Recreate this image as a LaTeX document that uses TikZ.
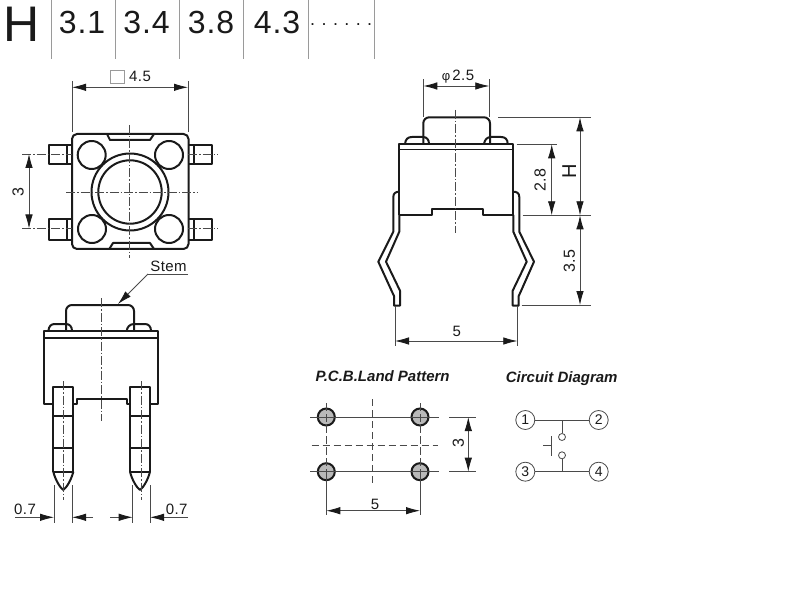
\documentclass[tikz,border=0pt]{standalone}
\usepackage{fontspec}
\setmainfont{Liberation Sans}
\usetikzlibrary{arrows.meta}
\newcommand{\fs}[1]{\fontsize{#1}{#1}\selectfont}
\newcommand{\lspc}[1]{\addfontfeature{LetterSpace=#1}}
\definecolor{inkc}{HTML}{1A1A1A}
\definecolor{thinc}{HTML}{4A4A4A}
\definecolor{rulec}{HTML}{9A9A9A}
\tikzset{
  outl/.style={draw=inkc,line width=2pt,line join=round},
  thinl/.style={draw=thinc,line width=0.8pt},
  ctr/.style={draw=thinc,line width=0.7pt,dash pattern=on 9pt off 2pt on 1.5pt off 2pt},
  dashl/.style={draw=thinc,line width=0.7pt,dash pattern=on 7pt off 4pt},
  dimb/.style={thinl,{Latex[length=14pt,width=7.5pt,color=inkc]}-{Latex[length=14pt,width=7.5pt,color=inkc]}},
  dime/.style={thinl,-{Latex[length=14pt,width=7.5pt,color=inkc]}},
  lab/.style={inner sep=0pt,text=inkc,font=\fs{15}\lspc{3}},
  labr/.style={inner sep=0pt,text=inkc,rotate=90,font=\fs{16}},
  head/.style={inner sep=0pt,text=inkc,font=\fs{32}\lspc{3}},
  ttl/.style={inner sep=0pt,text=inkc,font=\fs{15}\bfseries\itshape},
  pad/.style={circle,draw=inkc,fill=gray!55,line width=2pt,minimum size=17pt,inner sep=0pt},
  term/.style={circle,draw=thinc,fill=white,line width=0.8pt,minimum size=19pt,inner sep=0pt,text=inkc,font=\fs{14}},
  cont/.style={circle,draw=thinc,fill=white,line width=0.8pt,minimum size=7pt,inner sep=0pt},
}
\begin{document}
\begin{tikzpicture}[x=1pt,y=-1pt]
\useasboundingbox[fill=white] (0,0) rectangle (788,591);

% ---------- header
\node[inner sep=0pt,text=inkc,font=\fs{50}] (hH) at (21.5,24) {H};
\foreach \x in {51.7,115.7,179.7,243.7,308,374.7}
  \draw[rulec,line width=0.7pt] (\x,0) -- (\x,59);
\node[head] (h1) at (82,22.7) {3.1};
\node[head] (h2) at (146.5,22.7) {3.4};
\node[head] (h3) at (211,22.7) {3.8};
\node[head] (h4) at (277,22.7) {4.3};
\node[inner sep=0pt,text=inkc,font=\fs{18},anchor=base west] (hd) at (310,26)
  {.\kern6.4pt.\kern6.4pt.\kern6.4pt.\kern6.4pt.\kern6.4pt.};

% ---------- top view
\draw[outl] (48.7,145) rectangle (72,164) (66.7,145) -- (66.7,164);
\draw[outl] (48.7,219) rectangle (72,240) (66.7,219) -- (66.7,240);
\draw[outl] (188,145) rectangle (211.7,164) (194,145) -- (194,164);
\draw[outl] (188,219) rectangle (211.7,240) (194,219) -- (194,240);
\draw[outl,fill=white,rounded corners=5pt] (72,134) rectangle (188.5,249);
\draw[outl] (107,134) -- (110,140) -- (150,140) -- (154,134);
\draw[outl] (109.3,249) -- (113,243) -- (150,243) -- (154,249);
\foreach \x/\y in {91.7/155,169/155,92/229,169/229}
  \draw[outl] (\x,\y) circle[radius=14];
\draw[outl] (130,192) circle[radius=38.5];
\draw[outl] (130,192) circle[radius=31.7];
\draw[ctr] (129.5,125) -- (129.5,258);
\draw[ctr] (66,192) -- (197,192);
\draw[ctr] (22,154) -- (72,154);
\draw[ctr] (22,228.5) -- (72,228.5);
\draw[ctr] (188,154) -- (218,154);
\draw[ctr] (188,228.5) -- (218,228.5);
\draw[thinl] (72,81) -- (72,132) (188,81) -- (188,132);
\draw[dimb] (72,87.3) -- (188,87.3);
\draw[rulec,line width=0.8pt] (110,70) rectangle (124,83);
\node[lab] (d45) at (140,76.7) {4.5};
\draw[dimb] (29,154) -- (29,228.5);
\node[labr] (d3a) at (18,192) {3};

% ---------- front view
\draw[outl,rounded corners=6pt] (66,331) -- (66,305) -- (134,305) -- (134,331);
\draw[outl] (48.3,331) .. controls (49,326) and (51,324) .. (55,324) -- (66,324) .. controls (70,324) and (72,327) .. (72,331);
\draw[outl] (126.7,331) .. controls (127,327) and (130,324) .. (134,324) -- (145,324) .. controls (149,324) and (151,327) .. (151,331);
\draw[outl] (53.3,404) -- (44,404) -- (44,331) -- (158.3,331) -- (158.3,404) -- (150,404);
\draw[outl,line width=1.2pt] (44,338) -- (158.3,338);
\draw[outl] (73.3,404) -- (77,404) -- (77,399) -- (126.7,399) -- (126.7,404) -- (130,404);
\foreach \x in {53.3,130} {
  \draw[outl] (\x,471.7) -- (\x,386.7) -- (\x+20,386.7) -- (\x+20,471.7)
     (\x,415.7) -- (\x+20,415.7) (\x,448.3) -- (\x+20,448.3) (\x,471.7) -- (\x+20,471.7);
  \draw[outl] (\x,471.7) .. controls (\x+2,480) and (\x+7,488) .. (\x+10,490) .. controls (\x+13,488) and (\x+18,480) .. (\x+20,471.7);
}
\draw[ctr] (101.7,298) -- (101.7,420.7);
\draw[ctr] (63.3,381) -- (63.3,500);
\draw[ctr] (141,381) -- (141,500);
\draw[thinl] (54,485) -- (54,523) (72,485) -- (72,523) (132.7,485) -- (132.7,523) (150,485) -- (150,523);
\draw[dime] (15,517.3) -- (54,517.3);
\draw[dime] (93,517.3) -- (72,517.3);
\draw[dime] (110,517.3) -- (132.7,517.3);
\draw[dime] (188,517.3) -- (150,517.3);
\node[lab] (d07a) at (25,509) {0.7};
\node[lab] (d07b) at (176.7,509) {0.7};
\node[lab] (dstem) at (168.5,266) {Stem};
\coordinate (stemk) at (148,274);
\coordinate (stemt) at (118,304);
\draw[thinl] (188,274) -- (stemk);
\draw[dime] (stemk) -- (stemt);

% ---------- side view
\draw[outl,rounded corners=6pt] (423.3,144) -- (423.3,117.3) -- (490,117.3) -- (490,144);
\draw[outl] (405,144) .. controls (405.5,139) and (408,137) .. (412,137) -- (423,137) .. controls (427,137) and (429,140) .. (429,144);
\draw[outl] (484,144) .. controls (484.5,140) and (487,137) .. (491,137) -- (501,137) .. controls (505,137) and (507.7,139) .. (507.7,144);
\draw[outl] (399.3,215.3) -- (399.3,144) -- (513.3,144) -- (513.3,215.3);
\draw[outl,line width=1.2pt] (399.3,149.3) -- (513.3,149.3);
\draw[outl] (399.3,215.3) -- (431.7,215.3) -- (431.7,209.3) -- (482.7,209.3) -- (482.7,215.3) -- (513.3,215.3);
\draw[outl] (399.3,191.7) .. controls (396,191.7) and (393.3,193) .. (393.3,197) -- (393.3,231.7) -- (378.3,261.7) -- (392,291.7) -- (394,296) -- (394,305.7) -- (400,305.7) -- (400,290.7) -- (386,261.7) -- (399.3,231.7) -- (399.3,215);
\draw[outl] (513.3,191.7) .. controls (516.6,191.7) and (519.3,193) .. (519.3,197) -- (519.3,231.7) -- (534,261.7) -- (520.7,291.7) -- (518.7,296) -- (518.7,305.7) -- (512.7,305.7) -- (512.7,290.7) -- (526.7,261.7) -- (513.3,231.7) -- (513.3,215);
\draw[ctr] (455.7,110) -- (455.7,233);
\draw[thinl] (423.3,79.3) -- (423.3,116.7) (489.3,79.3) -- (489.3,116.7);
\draw[dimb] (423.3,86) -- (489.3,86);
\node[lab] (d25) at (458,76.7) {\fs{13}φ\,\fs{15}\lspc{3}2.5};
\draw[thinl] (498,117.3) -- (590.7,117.3) (522.7,215.3) -- (590.7,215.3)
             (516.7,144.3) -- (557,144.3) (521.7,305) -- (590.7,305);
\draw[dimb] (580,117.3) -- (580,215.3);
\draw[dimb] (551.7,144.3) -- (551.7,215.3);
\draw[dimb] (580,215.3) -- (580,305);
\node[labr] (d28) at (540,180) {2.8};
\node[labr,font=\fs{20}] (dH) at (569.3,171) {H};
\node[labr] (d35) at (569.3,261) {3.5};
\draw[thinl] (395,305.7) -- (395,346) (517.3,305.7) -- (517.3,346);
\draw[dimb] (395,341) -- (517.3,341);
\node[lab] (d5a) at (456.7,331.7) {5};

% ---------- P.C.B. land pattern
\node[ttl] (tpcb) at (382.7,375.7) {P.C.B.Land Pattern};
\node[pad] (p1) at (326.3,417) {};
\node[pad] (p2) at (420,417) {};
\node[pad] (p3) at (326.3,471.7) {};
\node[pad] (p4) at (420,471.7) {};
\coordinate (pl1) at (310,417);
\coordinate (pr1) at (439,417);
\coordinate (pl2) at (310,471.7);
\coordinate (pr2) at (439,471.7);
\draw[thinl] (pl1) -- (pr1) (pl2) -- (pr2);
\draw[ctr,dash pattern=on 8pt off 3pt] (326.3,403) -- (p3.center);
\draw[ctr,dash pattern=on 8pt off 3pt] (420,403) -- (p4.center);
\draw[dashl] (372.3,399) -- (372.3,486.7);
\draw[dashl] (311.7,445.3) -- (437.7,445.3);
\draw[thinl] (p3.center) -- (326.3,515) (p4.center) -- (420,515);
\draw[dimb] (326.3,510.7) -- (420,510.7);
\node[lab] (d5b) at (375,504) {5};
\draw[thinl] (449.3,417) -- (475.7,417) (449.3,471.7) -- (475.7,471.7);
\draw[dimb] (468.3,417) -- (468.3,471.7);
\node[labr] (d3b) at (458.3,443.3) {3};

% ---------- circuit diagram
\node[ttl] (tcir) at (561.7,378.3) {Circuit Diagram};
\draw[thinl] (525.3,420) -- (598.7,420) (525.3,471.7) -- (598.7,471.7);
\node[term] (t1) at (525.3,420) {1};
\node[term] (t2) at (598.7,420) {2};
\node[term] (t3) at (525.3,471.7) {3};
\node[term] (t4) at (598.7,471.7) {4};
\node[cont] (c1) at (562,437) {};
\node[cont] (c2) at (562,455.3) {};
\coordinate (j1) at (562,420);
\coordinate (j2) at (562,471.7);
\draw[thinl] (j1) -- (c1) (c2) -- (j2);
\coordinate (b1) at (551,436);
\coordinate (b2) at (551,456);
\coordinate (b3) at (551,445.7);
\coordinate (b4) at (542.7,445.7);
\draw[thinl] (b1) -- (b2) (b3) -- (b4);
\end{tikzpicture}
\end{document}
